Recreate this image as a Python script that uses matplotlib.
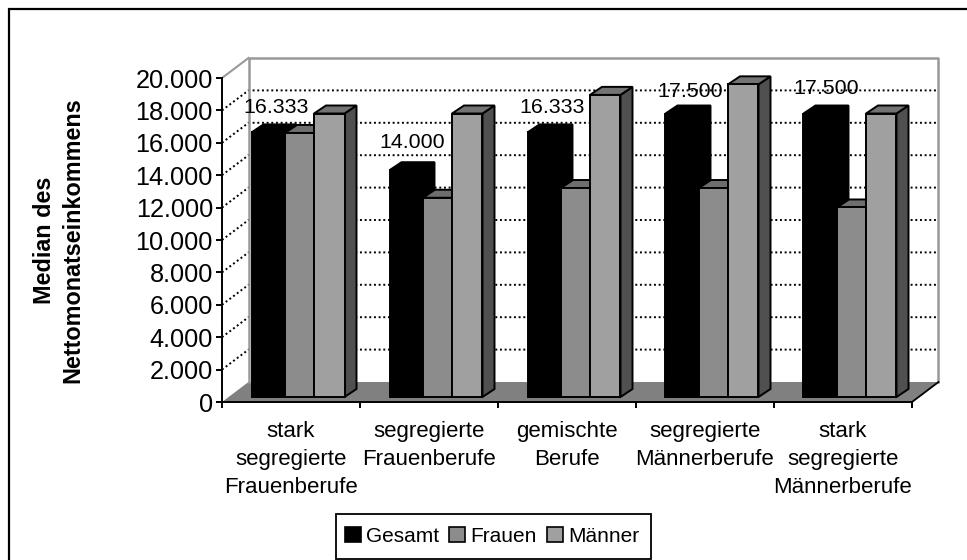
import matplotlib
matplotlib.use("Agg")
import matplotlib.pyplot as plt
from matplotlib.patches import Polygon, Rectangle
from matplotlib.lines import Line2D

categories = ["stark\nsegregierte\nFrauenberufe", "segregierte\nFrauenberufe", "gemischte\nBerufe",
              "segregierte\nMännerberufe", "stark\nsegregierte\nMännerberufe"]
gesamt = [16333, 14000, 16333, 17500, 17500]
frauen = [16300, 12300, 12900, 12900, 11700]
maenner = [17500, 17500, 18650, 19300, 17500]
gesamt_labels = ["16.333", "14.000", "16.333", "17.500", "17.500"]
yticks = list(range(0, 20001, 2000))
ytick_labels = ["0", "2.000", "4.000", "6.000", "8.000", "10.000", "12.000", "14.000", "16.000", "18.000", "20.000"]

W, H = 967, 560
plt.rcParams['font.family'] = ['Liberation Sans', 'DejaVu Sans']

fig = plt.figure(figsize=(W / 100, H / 100), dpi=100)
# front plane of the fake 3d box, in pixels
left, right, top, bottom = 222, 912, 78, 402
ax = fig.add_axes([left / W, 1 - bottom / H, (right - left) / W, (bottom - top) / H])
ax.set_xlim(0, 5)
ax.set_ylim(0, 20000)

px_x = 5 / (right - left)
px_y = 20000 / (bottom - top)
dx, dy = 26.5 * px_x, 20 * px_y    # depth of the box
bx, by = 12 * px_x, 8 * px_y       # depth of a bar
base = 5 * px_y                    # bars stand a bit behind the axis line


def poly(pts, fc, ec='none', lw=0, z=2):
    ax.add_patch(Polygon(pts, closed=True, facecolor=fc, edgecolor=ec, linewidth=lw,
                         zorder=z, clip_on=False, joinstyle='miter'))


# floor and walls
poly([(0, 0), (5, 0), (5 + dx, dy), (dx, dy)], '#808080', z=1)
for v in yticks[1:-1]:
    ax.plot([0, dx, 5 + dx], [v, v + dy, v + dy], color='black', lw=1.4, ls=(0, (1, 1.4)),
            zorder=1, clip_on=False)
ax.plot([dx, dx, 5 + dx, 5 + dx], [dy, 20000 + dy, 20000 + dy, dy], color='#999999', lw=1.8, zorder=1, clip_on=False)
ax.plot([0, dx], [20000, 20000 + dy], color='#999999', lw=1.5, zorder=1, clip_on=False)
ax.plot([5, 5 + dx], [0, dy], color='black', lw=1.3, zorder=1, clip_on=False)

# bars
offsets = [29.5 * px_x, 63 * px_x, 92 * px_x]
widths = [33 * px_x, 29 * px_x, 30.5 * px_x]
styles = [('black', 'black', 'black'), ('#8c8c8c', '#6e6e6e', '#505050'), ('#a0a0a0', '#737373', '#505050')]
for i in range(len(categories)):
    for j, vals in enumerate([gesamt, frauen, maenner]):
        x0 = i + offsets[j]
        x1 = x0 + widths[j]
        v = vals[i] + base
        front, topc, side = styles[j]
        z = 3 + j
        poly([(x1, base), (x1 + bx, base + by), (x1 + bx, v + by), (x1, v)], side, 'black', 1.4, z)
        poly([(x0, v), (x0 + bx, v + by), (x1 + bx, v + by), (x1, v)], topc, 'black', 1.4, z)
        poly([(x0, base), (x0, v), (x1, v), (x1, base)], front, 'black', 1.4, z + 0.1)

label_pos = [(0.39, 18150), (1.377, 15990), (2.39, 18150), (3.39, 19140), (4.377, 19380)]
for (xpos, ypos), txt in zip(label_pos, gesamt_labels):
    ax.text(xpos, ypos, txt, fontsize=15.4, ha='center', va='center', color='black', zorder=10)

for s in ['top', 'right']:
    ax.spines[s].set_visible(False)
for s in ['left', 'bottom']:
    ax.spines[s].set_linewidth(1.4)
    ax.spines[s].set_zorder(8)
ax.set_yticks(yticks)
ax.set_yticklabels(ytick_labels, fontsize=18.2)
ax.set_xticks(range(6))
ax.set_xticklabels([])
ax.tick_params(axis='y', length=4.5, width=1.4, pad=2)
ax.tick_params(axis='x', length=4.5, width=1.4)
ax.patch.set_visible(False)

for i, c in enumerate(categories):
    ax.text(i + 0.5, -1150, c, ha='center', va='top', fontsize=16, linespacing=1.46)

fig.text(59 / W, 1 - 240.5 / H, "Median des\nNettomonatseinkommens", rotation=90, ha='center', va='center',
         fontsize=16.8, fontweight='bold', linespacing=1.28)

# outer frame, only left and top are in the picture
fig.add_artist(Line2D([8.5 / W, 8.5 / W, 1], [0, 1 - 8.5 / H, 1 - 8.5 / H], transform=fig.transFigure,
                      color='black', linewidth=1.6, solid_joinstyle='miter'))

# legend box drawn apart, it is taller than the legend's own padding allows
fig.add_artist(Rectangle((336 / W, 1 - 559 / H), 315 / W, 45 / H, transform=fig.transFigure,
                         facecolor='white', edgecolor='black', linewidth=1.3))
handles = [Rectangle((0, 0), 1, 1, facecolor=c, edgecolor='black', linewidth=1.2)
           for c in ['black', '#8c8c8c', '#a0a0a0']]
leg = fig.legend(handles, ["Gesamt", "Frauen", "Männer"], ncol=3, loc='center', bbox_to_anchor=(492 / W, 1 - 536.5 / H),
                 fontsize=15, frameon=False, handlelength=0.75, handleheight=0.75,
                 handletextpad=0.25, columnspacing=0.5, borderpad=0, borderaxespad=0)
leg.set_zorder(5)

fig.savefig("out.png", dpi=100)
